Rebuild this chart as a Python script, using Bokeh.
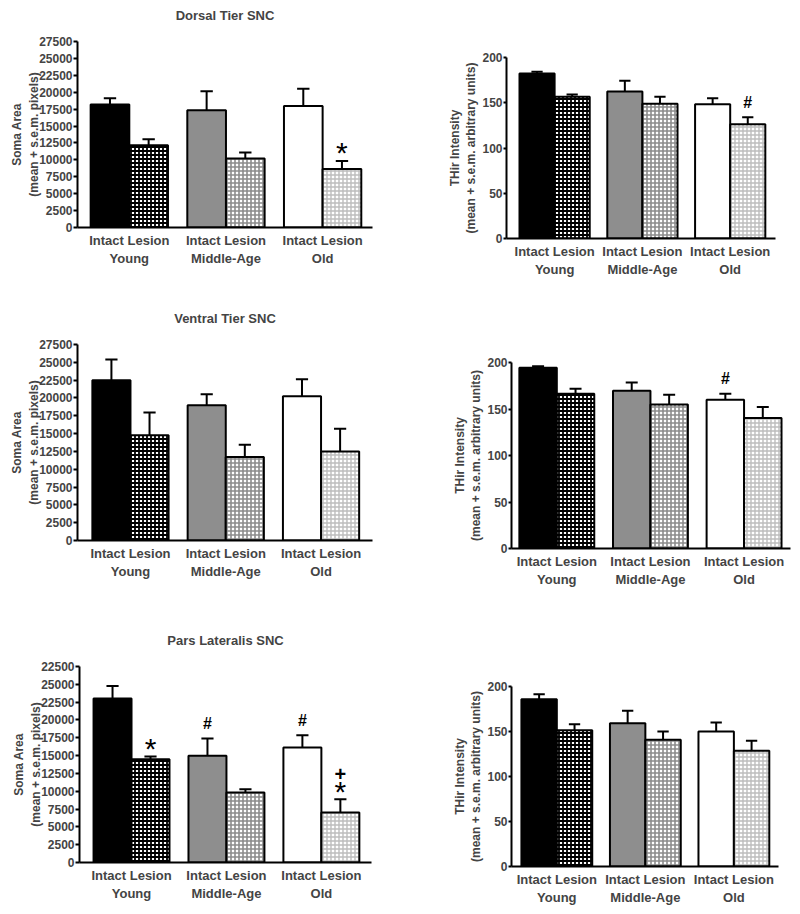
from bokeh.plotting import figure
from bokeh.models import Range1d, FixedTicker, ColumnDataSource, Title
from bokeh.embed import file_html
from bokeh.resources import INLINE
from bokeh.core.properties import value

# ---------------- data ----------------
groups = ["Young", "Middle-Age", "Old"]
conditions = ["Intact", "Lesion"]

soma_ticks = [0, 2500, 5000, 7500, 10000, 12500, 15000, 17500, 20000, 22500, 25000, 27500]
soma_tick_labels = ["0", "2500", "5000", "7500", "10000", "12500", "15000", "17500", "20000", "22500", "25000", "27500"]
# the Pars Lateralis panel's top tick is printed as "22500" in the original
pl_soma_tick_labels = ["0", "2500", "5000", "7500", "10000", "12500", "15000", "17500", "20000", "22500", "25000", "22500"]
thir_ticks = [0, 50, 100, 150, 200]
thir_tick_labels = ["0", "50", "100", "150", "200"]

titles = ["Dorsal Tier SNC", "Ventral Tier SNC", "Pars Lateralis SNC"]
soma_ylabel = "Soma Area\n(mean + s.e.m. pixels)"
thir_ylabel = "THir Intensity\n(mean + s.e.m. arbitrary units)"

# Dorsal tier
dorsal_soma_intact = [18200, 17350, 17950]
dorsal_soma_intact_sem = [900, 2800, 2550]
dorsal_soma_lesion = [12150, 10200, 8650]
dorsal_soma_lesion_sem = [900, 900, 1200]
dorsal_thir_intact = [182.3, 162.4, 148.4]
dorsal_thir_intact_sem = [1.9, 11.8, 6.7]
dorsal_thir_lesion = [156.5, 148.8, 126.3]
dorsal_thir_lesion_sem = [2.6, 7.7, 7.8]

# Ventral tier
ventral_soma_intact = [22500, 18970, 20230]
ventral_soma_intact_sem = [2900, 1550, 2400]
ventral_soma_lesion = [14750, 11700, 12500]
ventral_soma_lesion_sem = [3200, 1730, 3180]
ventral_thir_intact = [194.3, 169.6, 159.9]
ventral_thir_intact_sem = [1.7, 8.9, 6.5]
ventral_thir_lesion = [166.4, 154.9, 140.3]
ventral_thir_lesion_sem = [5.3, 10.4, 11.8]

# Pars lateralis
pl_soma_intact = [23000, 14970, 16140]
pl_soma_intact_sem = [1780, 2430, 1730]
pl_soma_lesion = [14500, 9820, 7020]
pl_soma_lesion_sem = [370, 470, 1870]
pl_thir_intact = [185.9, 159.3, 150.0]
pl_thir_intact_sem = [5.6, 13.7, 10.0]
pl_thir_lesion = [151.5, 140.7, 128.5]
pl_thir_lesion_sem = [6.6, 9.3, 11.1]

# significance marks: (group, condition, symbol)
dorsal_soma_marks = [("Old", "Lesion", "*")]
dorsal_thir_marks = [("Old", "Lesion", "#")]
ventral_soma_marks = []
ventral_thir_marks = [("Old", "Intact", "#")]
pl_soma_marks = [("Young", "Lesion", "*"), ("Middle-Age", "Intact", "#"),
                 ("Old", "Intact", "#"), ("Old", "Lesion", "*"), ("Old", "Lesion", "+")]
pl_thir_marks = []

# ---------------- style ----------------
FONT = "Liberation Sans"
intact_fill = ["#000000", "#8e8e8e", "#ffffff"]
lesion_hatch = ["#000000", "#8c8c8c", "#bdbdbd"]
lesion_hweight = [1.8, 1.6, 1.4]
# symbol -> (font size, weight, pixel offset of the symbol above the error-bar cap)
mark_style = {"*": ("30px", "normal", -8), "#": ("16px", "bold", -15), "+": ("20px", "bold", -25)}
GROUP_STEP = 2.5
CAP = 0.16

TEMPLATE = """
{% block postamble %}
<style>
  html, body { margin: 0 !important; padding: 0 !important; }
  body { display: block !important; height: auto !important; overflow: hidden; }
  .pg { display: grid; grid-template-columns: 400px 400px; grid-auto-rows: min-content; }
  .pg > div { position: relative; }
</style>
{% endblock %}
{% block contents %}
{% from macros import embed %}
<div class="pg">
{% for doc in docs %}{% for root in doc.roots %}<div>{{ embed(root) }}</div>{% endfor %}{% endfor %}
</div>
{% endblock %}
"""


def make_panel(title, ylabel, ticks, tick_labels, intact, intact_sem, lesion, lesion_sem, marks,
               W, H, L, R, T, B, x0, x1, label_standoff, tick_out, spacer="2px"):
    p = figure(width=W, height=H, title=None, output_backend="svg", toolbar_location=None,
               x_range=Range1d(x0, x1), y_range=Range1d(ticks[0], ticks[-1]),
               min_border_left=L, min_border_right=R, min_border_top=T, min_border_bottom=B,
               background_fill_color="white", border_fill_color="white")
    p.outline_line_color = None
    p.xgrid.visible = False
    p.ygrid.visible = False
    if title is not None:
        p.add_layout(Title(text=" ", text_font_size=spacer), "above")
        p.add_layout(Title(text=title, text_font=FONT, text_font_size="13px", text_font_style="bold",
                           align="center"), "above")

    xs, tops, etops, fills, hats, hcols, hws = [], [], [], [], [], [], []
    for g in range(len(groups)):
        base = g * GROUP_STEP
        xs += [base + 0.5, base + 1.5]
        tops += [intact[g], lesion[g]]
        etops += [intact[g] + intact_sem[g], lesion[g] + lesion_sem[g]]
        fills += [intact_fill[g], "#ffffff"]
        hats += [" ", "+"]
        hcols += ["#000000", lesion_hatch[g]]
        hws += [1.0, lesion_hweight[g]]
    src = ColumnDataSource(dict(x=xs, top=tops, etop=etops, fill=fills, hat=hats, hcol=hcols, hw=hws,
                                cl=[v - CAP for v in xs], cr=[v + CAP for v in xs]))
    p.segment(x0="x", y0="top", x1="x", y1="etop", line_color="black", line_width=2, source=src)
    p.segment(x0="cl", y0="etop", x1="cr", y1="etop", line_color="black", line_width=2, source=src)
    p.vbar(x="x", top="top", bottom=0, width=1.0, fill_color="fill", line_color="black", line_width=2,
           hatch_pattern="hat", hatch_color="hcol", hatch_weight="hw", hatch_scale=4, source=src)

    if marks:
        mx, my, mt, ms, mw, mo = [], [], [], [], [], []
        for (gname, cond, sym) in marks:
            gi = groups.index(gname)
            ci = conditions.index(cond)
            k = gi * 2 + ci
            mx.append(xs[k])
            my.append(etops[k])
            mt.append(sym)
            ms.append(mark_style[sym][0])
            mw.append(mark_style[sym][1])
            mo.append(mark_style[sym][2])
        msrc = ColumnDataSource(dict(x=mx, y=my, t=mt, s=ms, w=mw, o=mo))
        p.text(x="x", y="y", text="t", source=msrc, text_font=value(FONT), text_font_style="w",
               text_font_size="s", text_align="center", text_baseline="middle", y_offset="o",
               text_color="black")

    ya = p.yaxis[0]
    ya.ticker = FixedTicker(ticks=ticks, minor_ticks=[])
    ya.major_label_overrides = {t: lab for t, lab in zip(ticks, tick_labels)}
    ya.axis_label = ylabel
    ya.axis_label_text_font = FONT
    ya.axis_label_text_font_style = "bold"
    ya.axis_label_text_font_size = "12px"
    ya.axis_label_standoff = label_standoff
    ya.major_label_text_font = FONT
    ya.major_label_text_font_style = "bold"
    ya.major_label_text_font_size = "12px"
    ya.major_label_standoff = 1
    ya.major_tick_out = tick_out
    ya.major_tick_in = 0
    ya.major_tick_line_width = 2
    ya.axis_line_width = 2
    ya.minor_tick_out = 0
    ya.minor_tick_in = 0

    xa = p.xaxis[0]
    centers = [g * GROUP_STEP + 1.0 for g in range(len(groups))]
    xa.ticker = FixedTicker(ticks=centers, minor_ticks=[])
    xa.major_label_overrides = {c: " ".join(conditions) + "\n" + g for c, g in zip(centers, groups)}
    xa.major_label_text_font = FONT
    xa.major_label_text_font_style = "bold"
    xa.major_label_text_font_size = "13px"
    xa.major_label_standoff = 5
    xa.major_tick_out = 0
    xa.major_tick_in = 0
    xa.minor_tick_out = 0
    xa.minor_tick_in = 0
    xa.axis_line_width = 2
    return p


# rows start at page y = 0, 300, 610 (heights 300, 310, 300); columns at x = 0, 400
p1 = make_panel(titles[0], soma_ylabel, soma_ticks, soma_tick_labels,
                dorsal_soma_intact, dorsal_soma_intact_sem, dorsal_soma_lesion, dorsal_soma_lesion_sem,
                dorsal_soma_marks, 400, 300, 77, 28, 40, 73, -0.34, 7.29, -5, 4, spacer="2px")
p2 = make_panel(None, thir_ylabel, thir_ticks, thir_tick_labels,
                dorsal_thir_intact, dorsal_thir_intact_sem, dorsal_thir_lesion, dorsal_thir_lesion_sem,
                dorsal_thir_marks, 400, 300, 106, 25, 57, 62, -0.37, 7.29, 1, 3)
p3 = make_panel(titles[1], soma_ylabel, soma_ticks, soma_tick_labels,
                ventral_soma_intact, ventral_soma_intact_sem, ventral_soma_lesion, ventral_soma_lesion_sem,
                ventral_soma_marks, 400, 310, 77, 28, 44, 70, -0.39, 7.35, -5, 4, spacer="2px")
p4 = make_panel(None, thir_ylabel, thir_ticks, thir_tick_labels,
                ventral_thir_intact, ventral_thir_intact_sem, ventral_thir_lesion, ventral_thir_lesion_sem,
                ventral_thir_marks, 400, 310, 111, 10, 62, 62, -0.21, 7.24, 1, 3)
p5 = make_panel(titles[2], soma_ylabel, soma_ticks, pl_soma_tick_labels,
                pl_soma_intact, pl_soma_intact_sem, pl_soma_lesion, pl_soma_lesion_sem,
                pl_soma_marks, 400, 300, 79, 29, 56, 48, -0.37, 7.32, -5, 4, spacer="2px")
p6 = make_panel(None, thir_ylabel, thir_ticks, thir_tick_labels,
                pl_thir_intact, pl_thir_intact_sem, pl_thir_lesion, pl_thir_lesion_sem,
                pl_thir_marks, 400, 300, 111, 22, 76, 44, -0.28, 7.26, 1, 3)

p = [p1, p2, p3, p4, p5, p6]
open("out.html", "w").write(file_html(p, INLINE, template=TEMPLATE))
